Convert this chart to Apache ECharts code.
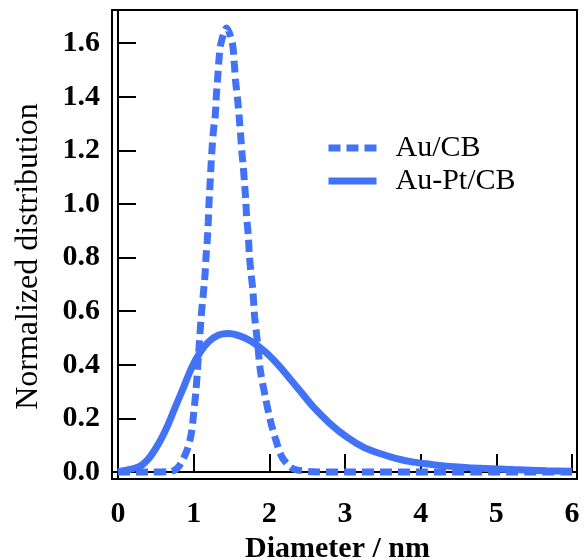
<!DOCTYPE html>
<html>
<head>
<meta charset="utf-8">
<script src="https://cdn.jsdelivr.net/npm/echarts@6/dist/echarts.min.js"></script>
<style>html,body{margin:0;padding:0;background:#fff;}#c{width:586px;height:560px;}</style>
</head>
<body>
<div id="c"></div>
<script>
var xTicks = [0, 1, 2, 3, 4, 5, 6];
var yTicks = [0, 0.2, 0.4, 0.6, 0.8, 1.0, 1.2, 1.4, 1.6];
var seriesNames = ['Au/CB', 'Au-Pt/CB'];

var auX = [0, 0.4, 0.7, 0.80, 0.912, 0.969, 1.000, 1.031, 1.053, 1.075, 1.101, 1.128, 1.150, 1.163, 1.180, 1.193, 1.203, 1.216, 1.229, 1.242, 1.260, 1.286, 1.299, 1.317, 1.335, 1.361, 1.436, 1.511, 1.537, 1.555, 1.582, 1.603, 1.621, 1.639, 1.656, 1.669, 1.687, 1.700, 1.722, 1.735, 1.754, 1.780, 1.797, 1.806, 1.850, 1.881, 1.947, 2.013, 2.088, 2.167, 2.277, 2.36, 2.6, 3.0, 6.0];
var auY = [0, 0, 0.002, 0.019, 0.081, 0.143, 0.218, 0.305, 0.392, 0.480, 0.585, 0.666, 0.735, 0.801, 0.865, 0.934, 1.002, 1.071, 1.139, 1.201, 1.270, 1.332, 1.400, 1.469, 1.538, 1.600, 1.657, 1.600, 1.525, 1.457, 1.388, 1.320, 1.258, 1.189, 1.139, 1.089, 1.021, 0.952, 0.884, 0.816, 0.753, 0.685, 0.616, 0.579, 0.467, 0.380, 0.280, 0.193, 0.118, 0.056, 0.019, 0.008, 0.001, 0, 0];

var ptX = [0, 0.053, 0.273, 0.405, 0.537, 0.648, 0.758, 0.868, 0.978, 1.088, 1.198, 1.330, 1.463, 1.617, 1.771, 1.947, 2.123, 2.30, 2.405, 2.581, 2.802, 3.022, 3.242, 3.462, 3.683, 3.903, 4.123, 4.344, 4.784, 5.224, 5.665, 6.0];
var ptY = [0, 0.004, 0.019, 0.050, 0.106, 0.168, 0.243, 0.317, 0.392, 0.448, 0.486, 0.511, 0.517, 0.507, 0.486, 0.448, 0.398, 0.339, 0.303, 0.243, 0.181, 0.131, 0.093, 0.069, 0.050, 0.037, 0.029, 0.022, 0.014, 0.009, 0.005, 0.003];

function pairs(xs, ys) { return xs.map(function (x, i) { return [x, ys[i]]; }); }

var blue = '#4272f6';
var font = 'Liberation Serif, Times New Roman, serif';
var chart = echarts.init(document.getElementById('c'));
chart.setOption({
  animation: false,
  backgroundColor: '#fff',
  grid: { left: 112, top: 10, width: 465, height: 469, show: true, borderColor: '#000', borderWidth: 2,
    containLabel: false, outerBoundsMode: 'none' },
  legend: {
    orient: 'vertical', left: 325, top: 133, padding: 0, itemWidth: 48, itemHeight: 14, itemGap: 3,
    data: seriesNames,
    itemStyle: { opacity: 0 },
    lineStyle: { width: 7 },
    textStyle: { fontFamily: font, fontSize: 30, color: '#000', lineHeight: 30, padding: [0, 0, 0, 14] }
  },
  xAxis: {
    type: 'value', min: -0.079, max: 6.066,
    name: 'Diameter / nm', nameLocation: 'middle', nameGap: 53,
    nameTextStyle: { fontFamily: font, fontSize: 30, fontWeight: 'bold', color: '#000', padding: [0, 14, 0, 0] },
    axisLine: { lineStyle: { color: '#000', width: 2 } },
    axisTick: { inside: true, length: 18, lineStyle: { color: '#000', width: 2 }, customValues: xTicks },
    axisLabel: { customValues: xTicks, fontFamily: font, fontSize: 30, fontWeight: 'bold', color: '#000', margin: 20 },
    splitLine: { show: false }
  },
  yAxis: {
    type: 'value', min: -0.026, max: 1.724,
    name: 'Normalized distribution', nameLocation: 'middle', nameGap: 67, nameRotate: 90,
    nameTextStyle: { fontFamily: font, fontSize: 32, color: '#000', padding: [0, 24, 0, 0] },
    axisLine: { lineStyle: { color: '#000', width: 2 } },
    axisTick: { inside: true, length: 18, lineStyle: { color: '#000', width: 2 }, customValues: yTicks },
    axisLabel: { customValues: yTicks, fontFamily: font, fontSize: 30, fontWeight: 'bold', color: '#000', margin: 12,
      formatter: function (v) { return v.toFixed(1); } },
    splitLine: { show: false }
  },
  series: [
    { name: seriesNames[0], type: 'line', data: pairs(auX, auY), smooth: 0.3, symbol: 'none', showSymbol: false,
      lineStyle: { color: blue, width: 7, type: [12, 6], cap: 'butt' }, itemStyle: { color: blue } },
    { name: seriesNames[1], type: 'line', data: pairs(ptX, ptY), smooth: 0.3, symbol: 'none', showSymbol: false,
      lineStyle: { color: blue, width: 7, type: 'solid' }, itemStyle: { color: blue } }
  ]
});
</script>
</body>
</html>
